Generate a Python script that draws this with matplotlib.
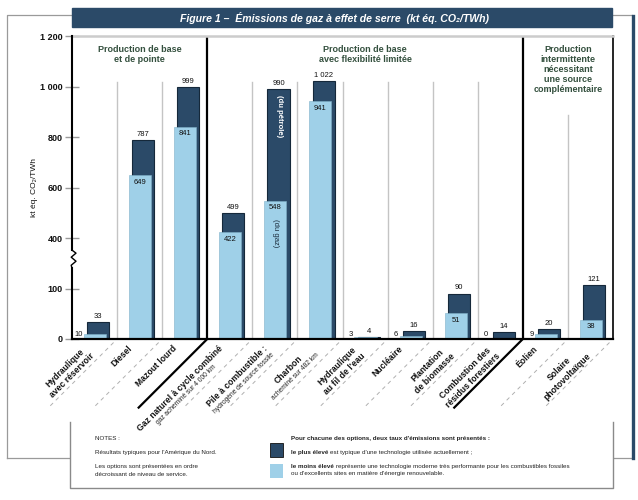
import numpy as np
import matplotlib
matplotlib.use("Agg")
import matplotlib.pyplot as plt
from matplotlib import font_manager
from matplotlib.patches import Rectangle
from matplotlib.lines import Line2D
from matplotlib.transforms import IdentityTransform, blended_transform_factory

# ---------------- data ----------------
categories = ["Hydraulique\navec réservoir", "Diesel", "Mazout lourd",
              "Gaz naturel à cycle combiné", "Pile à combustible :", "Charbon",
              "Hydraulique\nau fil de l'eau", "Nucléaire", "Plantation\nde biomasse",
              "Combustion des\nrésidus forestiers", "Éolien", "Solaire\nphotovoltaïque"]
subtitles = [None, None, None, "gaz acheminé sur 4 000 km", "hydrogène de source fossile",
             "acheminé sur 482 km", None, None, None, None, None, None]
low_values = [10, 649, 841, 422, 548, 941, 3, 6, 51, 0, 9, 38]
high_values = [33, 787, 999, 499, 990, 1022, 4, 16, 90, 14, 20, 121]
group_names = ["Production de base\net de pointe",
               "Production de base\navec flexibilité limitée",
               "Production\nintermittente\nnécessitant\nune source\ncomplémentaire"]
group_first = [0, 3, 10]
group_last = [2, 9, 11]
y_ticks = [0, 100, 400, 600, 800, 1000, 1200]
y_tick_labels = ["0", "100", "400", "600", "800", "1 000", "1 200"]
title = "Figure 1 –  Émissions de gaz à effet de serre  (kt éq. CO₂/TWh)"
y_label = "kt éq. CO₂/TWh"

# ---------------- style ----------------
DARK = "#2b4a68"
LIGHT = "#9fd0e8"
HEAD = "#34503e"
W, H, DPI = 638, 500, 100


def has_font(name):
    try:
        font_manager.findfont(font_manager.FontProperties(family=name), fallback_to_default=False)
        return True
    except Exception:
        return False


SANS = "Liberation Sans" if has_font("Liberation Sans") else "DejaVu Sans"
NARROW = "Liberation Sans Narrow" if has_font("Liberation Sans Narrow") else SANS
plt.rcParams["font.family"] = [SANS, "DejaVu Sans"]

fig = plt.figure(figsize=(W / DPI, H / DPI), dpi=DPI)
fig.patch.set_facecolor("white")
ax = fig.add_axes([72 / W, 161 / H, 541 / W, 303 / H])


def fwd(v):
    v = np.asarray(v, dtype=float)
    return np.where(v <= 100, v / 100, np.where(v <= 400, 1 + (v - 100) / 300, 2 + (v - 400) / 200))


def inv(u):
    u = np.asarray(u, dtype=float)
    return np.where(u <= 1, u * 100, np.where(u <= 2, 100 + (u - 1) * 300, 400 + (u - 2) * 200))


ax.set_yscale("function", functions=(fwd, inv))
ax.set_ylim(0, 1200)
ax.set_xlim(-0.5, 11.5)

n = len(categories)
x = np.arange(n)
ax.bar(x + 0.08, high_values, width=0.49, color=DARK, edgecolor="#15283a", linewidth=0.8, zorder=3)
ax.bar(x + 0.01, low_values, width=0.49, color=LIGHT, edgecolor="#7fb0c8", linewidth=0.4, zorder=4)


def fmt(v):
    return f"{v:,}".replace(",", " ")


for i in range(n):
    hv, lv = high_values[i], low_values[i]
    ax.annotate(fmt(hv), xy=(i + 0.08, hv), xytext=(0, 1.5), textcoords="offset points",
                ha="center", va="bottom", fontsize=5.5, color="#111", zorder=6)
    if lv >= 30:
        ax.annotate(fmt(lv), xy=(i + 0.01, lv), xytext=(0, -2.5), textcoords="offset points",
                    ha="center", va="top", fontsize=5.5, color="#111", zorder=6)
    else:
        ax.annotate(fmt(lv), xy=(i + 0.01 - 0.245, 0), xytext=(-1, 1), textcoords="offset points",
                    ha="right", va="bottom", fontsize=5.5, color="#111", zorder=6)

# texts inside the fuel-cell bar
ax.annotate("(du pétrole)", xy=(4 + 0.1, high_values[4]), xytext=(0, -4), textcoords="offset points",
            ha="center", va="top", rotation=270, fontsize=5.5, fontweight="bold", color="white", zorder=6)
ax.annotate("(du gaz)", xy=(4 + 0.01, low_values[4]), xytext=(0, -13), textcoords="offset points",
            ha="center", va="top", rotation=270, fontsize=5.5, color="#1a2a3a", zorder=6)

# grid / separators
separators = [group_last[0] + 0.5, group_last[1] + 0.5]
for b in np.arange(0.5, n - 0.5, 1.0):
    if b in separators:
        ax.axvline(b, color="black", lw=1.6, zorder=5)
    else:
        top = 0.739 if b > separators[1] else 0.848
        ax.axvline(b, ymin=0, ymax=top, color="#c4c4c4", lw=1.0, zorder=1)

# group headers
for name, a, b in zip(group_names, group_first, group_last):
    ax.annotate(name, xy=((a + b) / 2, 1200), xytext=(0, -6.5), textcoords="offset points",
                ha="center", va="top", fontsize=6.5, fontweight="bold", color=HEAD,
                linespacing=1.15, zorder=6)

# spines
ax.spines["left"].set_visible(False)
ax.spines["bottom"].set_color("black")
ax.spines["bottom"].set_linewidth(1.6)
ax.spines["right"].set_color("black")
ax.spines["right"].set_linewidth(1.2)
ax.spines["top"].set_color("#cccccc")
ax.spines["top"].set_linewidth(1.8)
for s in ax.spines.values():
    s.set_zorder(6)

# left axis with break
bt = blended_transform_factory(ax.transAxes, ax.transData)
zx = 4 / 541
ax.add_line(Line2D([0, 0], [1200, 328], transform=bt, color="black", lw=1.5, clip_on=False, zorder=7))
ax.add_line(Line2D([0, zx, -0.2 * zx, zx, -0.2 * zx, 0], [328, 310, 286, 262, 238, 220], transform=bt,
                   color="black", lw=1.0, clip_on=False, zorder=7))
ax.add_line(Line2D([0, 0], [220, 0], transform=bt, color="black", lw=1.5, clip_on=False, zorder=7))

ax.set_yticks(y_ticks)
ax.set_yticklabels(y_tick_labels)
ax.tick_params(axis="y", direction="inout", length=10, width=1, color="#9a9a9a", pad=1.5,
               labelsize=6.5, labelcolor="#111")
for lab in ax.get_yticklabels():
    lab.set_fontweight("bold")
ax.set_xticks([])
ax.set_ylabel(y_label, fontsize=6, color="#111")
ax.yaxis.set_label_coords(-0.063, 0.5)

# ---------------- rotated category labels ----------------
renderer = fig.canvas.get_renderer()
c45 = np.cos(np.pi / 4)
ALONG = np.array([c45, c45])
PERP = np.array([c45, -c45])


def text_width(s, **kw):
    t = fig.text(0, 0, s, **kw)
    w = t.get_window_extent(renderer).width
    t.remove()
    return w


main_kw = dict(fontsize=6.2, fontweight="bold", color="#111")
sub_kw = dict(fontsize=4.8, color="#222")
for i in range(n):
    lines = [(s, main_kw) for s in categories[i].split("\n")]
    if subtitles[i]:
        lines.append((subtitles[i], sub_kw))
    widths = [text_width(s, **kw) for s, kw in lines]
    Wb = max(widths)
    base = ax.transData.transform((i, 0))
    A = base + np.array([-12.0, -5.0])
    off = 0.0
    for (s, kw), w in zip(lines, widths):
        p = A + PERP * off - ALONG * ((Wb - w) / 2)
        fig.text(p[0], p[1], s, transform=IdentityTransform(), rotation=45, rotation_mode="anchor",
                 ha="right", va="top", **kw)
        off += kw["fontsize"] * 1.2 * DPI / 72

# diagonal guide lines
L = 97
for b in np.arange(0.5, n + 0.5, 1.0):
    p0 = ax.transData.transform((b, 0))
    if b in separators:
        p1 = p0 - ALONG * L
        fig.add_artist(Line2D([p0[0], p1[0]], [p0[1], p1[1]], transform=IdentityTransform(),
                              color="black", lw=1.6))
    else:
        ps = p0 - ALONG * 5
        p1 = p0 - ALONG * L
        fig.add_artist(Line2D([ps[0], p1[0]], [ps[1], p1[1]], transform=IdentityTransform(),
                              color="#b0b0b0", lw=0.7, dashes=(4, 4)))


# ---------------- frame, banner, notes ----------------
def P(xp, yp):
    return (xp / W, 1 - yp / H)


def fline(pts, **kw):
    xs = [p[0] / W for p in pts]
    ys = [1 - p[1] / H for p in pts]
    fig.add_artist(Line2D(xs, ys, transform=fig.transFigure, **kw))


fline([(7, 458), (7, 15), (632, 15)], color="#9a9a9a", lw=0.9)
fline([(7, 458), (70, 458)], color="#9a9a9a", lw=0.9)
fline([(613, 458), (632, 458)], color="#9a9a9a", lw=0.9)
fline([(633, 16), (633, 458)], color=DARK, lw=2.4)

fig.add_artist(Rectangle(P(72, 27), 540 / W, 19 / H, transform=fig.transFigure, color=DARK, zorder=3))
fig.text(*P(335, 17.5), title, ha="center", va="center", color="white", fontsize=7.6,
         fontweight="bold", fontstyle="italic", family=[NARROW, "DejaVu Sans"], zorder=4)

fig.add_artist(Rectangle(P(70, 488), 543 / W, 66 / H, transform=fig.transFigure,
                         facecolor="white", edgecolor="none", zorder=2))
fline([(70, 422), (70, 488), (613, 488), (613, 422)], color="#8a8a8a", lw=1.0, zorder=3)

nkw = dict(fontsize=4.5, color="#222", va="center", family=[NARROW, "DejaVu Sans"], zorder=4)
fig.text(*P(95, 439), "NOTES :", **nkw)
fig.text(*P(95, 452.5), "Résultats typiques pour l'Amérique du Nord.", **nkw)
fig.text(*P(95, 466.5), "Les options sont présentées en ordre", **nkw)
fig.text(*P(95, 474), "décroissant de niveau de service.", **nkw)

fig.text(*P(291, 438.5), "Pour chacune des options, deux taux d'émissions sont présentés :",
         fontweight="bold", **nkw)
fig.add_artist(Rectangle(P(270, 457), 13 / W, 14 / H, transform=fig.transFigure,
                         facecolor=DARK, edgecolor="#111", lw=0.6, zorder=4))
fig.add_artist(Rectangle(P(270, 478), 13 / W, 14 / H, transform=fig.transFigure,
                         facecolor=LIGHT, edgecolor="none", zorder=4))


def mixed(xp, yp, bold, rest):
    fig.text(*P(xp, yp), bold, fontweight="bold", **nkw)
    wb = text_width(bold + " ", fontweight="bold", fontsize=nkw["fontsize"], family=nkw["family"])
    fig.text(*P(xp + wb, yp), rest, **nkw)


mixed(291, 452.5, "le plus élevé", "est typique d'une technologie utilisée actuellement ;")
mixed(291, 466.5, "le moins élevé",
      "représente une technologie moderne très performante pour les combustibles fossiles")
fig.text(*P(291, 474), "ou d'excellents sites en matière d'énergie renouvelable.", **nkw)

fig.savefig("out.png", dpi=DPI)
